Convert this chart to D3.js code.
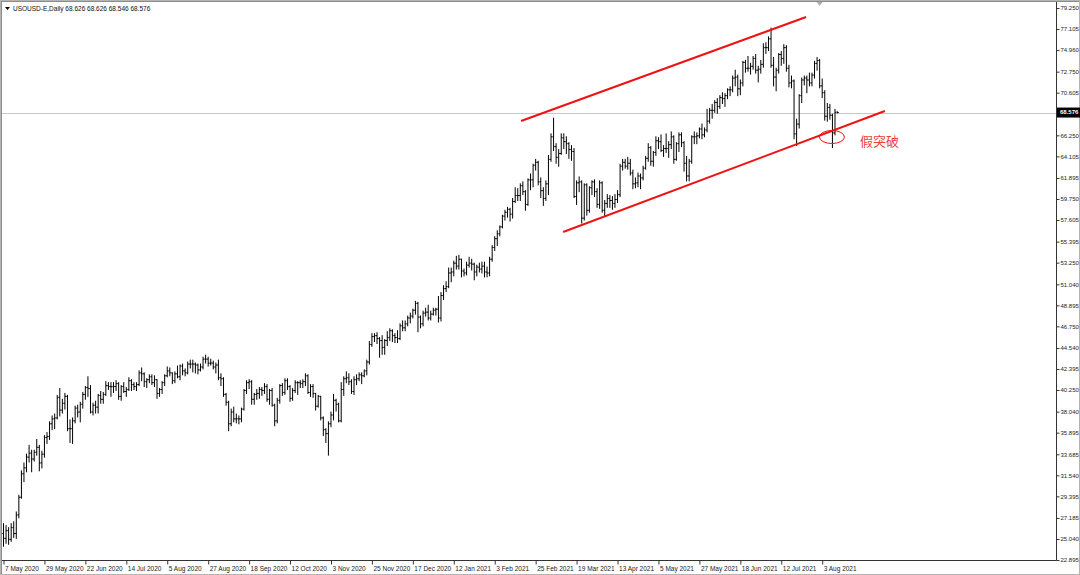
<!DOCTYPE html>
<html><head><meta charset="utf-8">
<script src="https://cdn.jsdelivr.net/npm/d3@7"></script>
<style>html,body{margin:0;padding:0;background:#fff;overflow:hidden}</style>
</head><body><svg id="c" width="1080" height="575"></svg>
<script>
const opens=[25.6,25.1,25.9,25.0,26.2,25.6,27.5,29.3,31.7,32.3,
33.4,33.8,33.2,33.9,34.4,32.8,33.7,35.4,35.5,36.8,
37.3,37.4,39.5,38.2,38.9,39.6,36.3,36.3,37.1,38.4,
38.0,38.8,39.8,40.5,40.4,38.0,38.7,38.5,39.7,39.3,
39.8,40.7,40.6,40.6,40.6,40.9,39.6,40.6,40.1,40.3,
41.2,40.8,40.6,40.8,42.0,41.9,41.1,41.3,41.6,41.0,
41.3,39.9,40.3,41.0,41.7,42.2,42.0,41.2,41.9,41.6,
42.7,42.2,42.0,42.9,42.9,42.9,42.8,42.3,42.6,43.4,
43.4,43.0,43.0,42.6,42.8,41.5,41.4,39.8,39.0,36.8,
38.0,37.3,37.3,37.3,38.3,40.2,41.0,41.1,39.3,39.8,
39.9,40.3,40.2,40.6,39.3,40.2,38.7,37.1,39.2,40.7,
40.0,41.2,40.6,39.4,40.2,41.0,41.0,40.9,41.1,41.7,
40.0,40.6,39.9,38.6,39.6,37.4,36.2,35.8,36.8,37.7,
39.2,38.8,37.1,40.3,41.4,41.5,41.1,40.1,41.3,41.4,
41.8,41.7,42.2,43.1,44.9,45.7,45.8,45.5,45.3,44.6,
45.3,45.6,46.3,45.8,45.6,45.5,46.8,46.6,47.0,47.6,
47.8,48.4,49.1,47.7,47.0,48.1,48.2,47.6,48.0,48.4,
48.5,47.6,49.9,50.6,50.8,52.2,52.3,53.2,52.9,53.6,
52.4,52.2,53.0,53.2,53.1,52.3,52.8,52.6,52.9,52.3,
52.2,53.6,54.8,55.7,56.2,56.9,58.0,58.4,58.7,58.2,
59.5,60.1,60.1,61.1,60.5,59.2,61.7,61.7,63.2,63.5,
61.5,60.6,59.8,61.3,63.8,66.1,65.1,64.0,64.4,66.0,
65.6,65.4,64.8,64.6,60.0,61.4,61.5,57.8,61.2,58.6,
60.9,61.5,60.5,59.2,61.4,58.6,59.3,59.8,59.6,59.3,
59.7,60.2,63.1,63.5,63.1,63.4,62.4,61.3,61.4,62.1,
61.9,62.9,63.9,65.0,63.6,64.5,65.7,65.6,64.7,64.9,
64.9,65.3,66.1,63.8,65.4,66.3,65.5,63.4,62.1,63.6,
66.1,66.1,66.2,66.9,66.3,66.8,67.7,68.8,68.8,69.6,
69.2,70.1,70.0,70.3,70.9,70.9,72.1,72.2,71.0,71.6,
73.7,73.1,73.1,73.3,74.1,72.9,73.0,73.5,75.2,75.2,
76.1,73.4,72.2,72.9,74.5,74.1,75.2,73.1,71.6,71.8,
66.4,67.4,70.3,71.9,72.1,71.9,71.6,72.4,73.6,73.9,
71.3,70.6,68.2,69.1,68.3,66.5,68.626];
const highs=[26.6,26.4,26.2,26.6,26.8,27.8,29.5,32.0,32.8,33.7,
34.6,34.1,34.1,35.2,34.6,34.0,35.6,35.9,37.0,37.6,
37.8,39.7,40.4,39.3,39.9,39.7,37.2,37.4,38.6,38.7,
39.0,40.0,40.6,41.6,40.7,38.9,39.1,39.8,40.1,40.0,
41.1,41.0,41.0,41.0,41.2,41.0,40.7,41.0,40.5,41.5,
41.3,41.0,41.0,42.2,42.5,42.0,41.4,41.8,41.8,41.7,
41.3,40.4,41.1,41.8,42.6,42.5,42.0,42.1,42.7,42.8,
42.9,42.4,43.1,43.3,43.3,43.0,42.9,42.9,43.6,43.8,
43.6,43.4,43.2,43.0,43.3,41.9,41.5,39.9,39.1,38.3,
38.5,37.8,37.6,38.4,40.3,41.2,41.3,41.2,39.9,40.3,
40.5,40.5,40.9,40.8,40.3,40.4,38.8,39.4,40.8,40.9,
41.4,41.4,40.7,40.4,41.2,41.1,41.2,41.3,41.9,41.8,
40.8,40.8,39.9,39.7,39.6,37.5,36.3,37.0,38.0,39.8,
39.3,38.9,41.0,41.6,42.1,41.9,41.3,41.6,41.8,42.0,
42.0,42.3,43.3,45.2,46.0,46.0,46.1,45.6,45.8,45.4,
46.2,46.5,46.4,46.0,46.3,47.0,47.3,47.3,47.8,48.1,
48.5,49.3,49.2,47.8,48.3,48.6,48.9,48.3,48.6,48.6,
49.8,50.2,50.9,51.3,52.7,52.7,53.4,53.9,54.0,53.6,
52.6,53.3,53.8,53.6,53.2,53.0,53.2,53.3,53.3,52.8,
53.8,55.0,55.9,56.5,57.0,58.1,58.6,58.9,58.8,59.8,
60.9,60.8,61.3,61.5,60.6,61.8,62.3,63.3,63.8,63.6,
61.9,60.9,61.6,64.2,66.4,68.0,65.4,64.8,66.4,66.4,
66.1,65.5,65.2,64.9,61.6,62.0,61.6,61.3,61.3,61.0,
61.6,61.7,60.8,61.6,61.5,59.6,60.2,60.1,60.0,60.2,
60.6,63.3,63.8,63.8,64.0,63.8,62.7,61.9,62.4,62.3,
63.1,64.1,65.4,65.1,64.6,66.1,66.0,66.3,65.2,66.4,
65.6,66.6,66.2,65.5,66.5,66.5,65.6,64.1,63.8,66.2,
66.6,66.5,67.0,67.4,67.0,68.9,69.0,69.4,69.8,70.0,
70.3,70.6,70.5,71.0,71.2,72.3,72.9,72.4,71.9,73.8,
73.9,74.3,73.6,74.3,74.5,73.3,73.9,75.6,75.7,76.3,
77.2,74.2,73.1,74.6,74.8,75.5,75.4,73.4,72.3,71.9,
67.9,70.4,72.1,72.3,72.3,72.6,72.6,73.8,74.2,74.0,
72.0,70.8,69.5,69.4,68.4,68.9,68.626];
const lows=[24.3,24.6,24.5,24.8,25.2,25.1,27.2,29.2,30.9,31.9,
32.9,31.9,33.0,33.6,32.0,32.3,33.4,34.8,35.2,36.2,
36.3,37.3,37.6,37.9,38.3,36.1,34.9,34.8,36.9,37.5,
37.0,38.4,39.3,39.6,37.9,37.7,37.9,37.9,38.9,38.9,
39.7,40.3,39.6,40.0,40.2,39.3,39.2,40.0,39.6,40.2,
40.2,40.3,40.2,40.7,41.2,40.6,40.5,41.0,40.8,40.6,
39.4,39.6,39.9,40.7,41.6,41.7,40.9,41.0,41.5,41.3,
41.8,41.7,41.9,42.5,42.1,42.0,41.9,42.2,42.4,43.0,
42.7,42.8,42.4,42.0,41.3,40.7,39.6,38.7,36.1,36.6,
37.0,36.9,36.8,37.0,38.2,39.9,40.4,38.8,38.8,39.3,
39.4,39.7,39.9,39.1,38.8,38.6,36.6,36.9,38.9,39.7,
39.8,40.3,39.1,39.2,40.0,39.8,40.5,40.5,40.7,39.9,
39.6,39.5,38.2,38.5,37.2,35.6,34.9,33.6,36.5,37.2,
38.1,37.0,37.0,39.7,41.0,40.8,39.9,39.8,40.8,41.2,
40.9,41.6,41.8,42.9,44.7,45.2,45.0,43.6,43.9,43.9,
44.8,45.3,45.2,45.1,45.1,45.4,46.3,46.3,46.8,47.1,
47.6,48.0,46.2,46.6,46.8,47.8,47.4,47.4,47.9,47.9,
47.2,47.3,49.5,50.3,50.7,51.3,51.9,52.6,52.6,51.8,
51.9,52.0,52.8,52.5,51.5,51.9,52.3,52.2,51.8,51.8,
51.9,53.4,54.5,55.0,56.0,56.8,57.6,57.9,57.5,57.8,
59.4,59.6,59.6,60.2,58.6,59.1,60.7,61.0,62.7,61.2,
59.9,59.1,59.6,60.2,63.6,64.7,63.4,63.1,64.3,64.9,
64.4,63.9,63.7,59.9,59.2,60.5,57.3,57.6,58.1,58.4,
60.2,60.0,58.9,58.8,58.4,58.0,58.9,58.9,58.7,58.9,
59.4,60.0,62.7,62.9,62.8,62.2,60.8,60.9,61.0,60.8,
61.7,62.8,63.6,63.2,63.1,64.2,64.9,64.6,64.1,64.5,
64.0,64.9,63.4,63.7,64.6,65.1,62.6,61.6,61.6,63.4,
65.4,65.4,66.0,65.9,66.1,66.6,67.5,68.0,68.6,68.5,
69.0,69.5,69.2,70.0,70.3,70.7,71.3,70.3,70.4,71.3,
72.7,72.8,72.5,73.0,72.6,71.7,72.6,73.2,74.6,74.9,
73.2,71.3,70.8,72.6,73.4,73.6,72.8,71.2,71.1,65.9,
65.2,67.0,69.6,71.4,70.6,71.3,71.3,72.1,72.9,71.1,
70.1,67.8,67.7,67.9,65.0,66.3,68.546];
const closes=[25.1,25.9,25.0,26.2,25.6,27.5,29.3,31.7,32.3,33.4,
33.8,33.2,33.9,34.4,32.8,33.7,35.4,35.5,36.8,37.3,
37.4,39.5,38.2,38.9,39.6,36.3,36.3,37.1,38.4,38.0,
38.8,39.8,40.5,40.4,38.0,38.7,38.5,39.7,39.3,39.8,
40.7,40.6,40.6,40.6,40.9,39.6,40.6,40.1,40.3,41.2,
40.8,40.6,40.8,42.0,41.9,41.1,41.3,41.6,41.0,41.3,
39.9,40.3,41.0,41.7,42.2,42.0,41.2,41.9,41.6,42.7,
42.2,42.0,42.9,42.9,42.9,42.8,42.3,42.6,43.4,43.4,
43.0,43.0,42.6,42.8,41.5,41.4,39.8,39.0,36.8,38.0,
37.3,37.3,37.3,38.3,40.2,41.0,41.1,39.3,39.8,39.9,
40.3,40.2,40.6,39.3,40.2,38.7,37.1,39.2,40.7,40.0,
41.2,40.6,39.4,40.2,41.0,41.0,40.9,41.1,41.7,40.0,
40.6,39.9,38.6,39.6,37.4,36.2,35.8,36.8,37.7,39.2,
38.8,37.1,40.3,41.4,41.5,41.1,40.1,41.3,41.4,41.8,
41.7,42.2,43.1,44.9,45.7,45.8,45.5,45.3,44.6,45.3,
45.6,46.3,45.8,45.6,45.5,46.8,46.6,47.0,47.6,47.8,
48.4,49.1,47.7,47.0,48.1,48.2,47.6,48.0,48.4,48.5,
47.6,49.9,50.6,50.8,52.2,52.3,53.2,52.9,53.6,52.4,
52.2,53.0,53.2,53.1,52.3,52.8,52.6,52.9,52.3,52.2,
53.6,54.8,55.7,56.2,56.9,58.0,58.4,58.7,58.2,59.5,
60.1,60.1,61.1,60.5,59.2,61.7,61.7,63.2,63.5,61.5,
60.6,59.8,61.3,63.8,66.1,65.1,64.0,64.4,66.0,65.6,
65.4,64.8,64.6,60.0,61.4,61.5,57.8,61.2,58.6,60.9,
61.5,60.5,59.2,61.4,58.6,59.3,59.8,59.6,59.3,59.7,
60.2,63.1,63.5,63.1,63.4,62.4,61.3,61.4,62.1,61.9,
62.9,63.9,65.0,63.6,64.5,65.7,65.6,64.7,64.9,64.9,
65.3,66.1,63.8,65.4,66.3,65.5,63.4,62.1,63.6,66.1,
66.1,66.2,66.9,66.3,66.8,67.7,68.8,68.8,69.6,69.2,
70.1,70.0,70.3,70.9,70.9,72.1,72.2,71.0,71.6,73.7,
73.1,73.1,73.3,74.1,72.9,73.0,73.5,75.2,75.2,76.1,
73.4,72.2,72.9,74.5,74.1,75.2,73.1,71.6,71.8,66.4,
67.4,70.3,71.9,72.1,71.9,71.6,72.4,73.6,73.9,71.3,
70.6,68.2,69.1,68.3,66.5,68.6,68.576];

const dateLabels=["7 May 2020","29 May 2020","22 Jun 2020","14 Jul 2020","5 Aug 2020","27 Aug 2020","18 Sep 2020","12 Oct 2020","3 Nov 2020","25 Nov 2020","17 Dec 2020","12 Jan 2021","3 Feb 2021","25 Feb 2021","19 Mar 2021","13 Apr 2021","5 May 2021","27 May 2021","18 Jun 2021","12 Jul 2021","3 Aug 2021"];
const dateLabelIdx=[0,16,32,48,64,80,96,112,128,144,160,176,192,208,224,240,256,272,288,304,320];
const priceTicks=[79.250,77.105,74.960,72.750,70.605,66.250,64.105,61.895,59.750,57.605,55.395,53.250,51.040,48.895,46.750,44.540,42.395,40.250,38.040,35.895,33.685,31.540,29.395,27.185,25.040,22.895];
const bidPrice=68.576;
const symbolText="USOUSD-E,Daily";
const ohlcText="68.626 68.626 68.546 68.576";
const channelUpper=[[202.3,67.71],[313.7,78.33]];
const channelLower=[[218.75,56.38],[344.5,68.73]];
const fakeBreakMark={idx:323.8,price:66.08};
const fakeBreakLabel={idx:334.8,price:65.55,text:"假突破"};

const W=1080,H=575;
const svg=d3.select("#c");
const x=d3.scaleLinear().domain([0,320]).range([3.5,822.2]);
const y=d3.scaleLinear().domain([22.895,79.25]).range([560,8]);
const plotRight=1056.5, plotBottom=560.5;
const FONT="'Liberation Sans',Arial,sans-serif";

// frame
svg.append("rect").attr("x",0.5).attr("y",0.5).attr("width",W-1).attr("height",H-1).attr("fill","none").attr("stroke","#b4b4b4");
svg.append("line").attr("x1",1.5).attr("x2",1.5).attr("y1",1).attr("y2",H-1).attr("stroke","#8c8c8c");
svg.append("line").attr("x1",1).attr("x2",W-1).attr("y1",1.5).attr("y2",1.5).attr("stroke","#8c8c8c");

// bid line
svg.append("line").attr("x1",2).attr("x2",plotRight).attr("y1",Math.round(y(bidPrice))+0.5).attr("y2",Math.round(y(bidPrice))+0.5).attr("stroke","#c8c8c8").attr("stroke-width",1);

// OHLC bars
const g=svg.append("g").attr("stroke","#000").attr("stroke-width",1);
const idx=d3.range(closes.length);
g.selectAll("line.hl").data(idx).join("line").attr("class","hl")
 .attr("x1",i=>x(i)).attr("x2",i=>x(i)).attr("y1",i=>y(highs[i])-0.5).attr("y2",i=>y(lows[i])+0.5);
g.selectAll("line.o").data(idx).join("line").attr("class","o")
 .attr("x1",i=>x(i)-1.2).attr("x2",i=>x(i)).attr("y1",i=>y(opens[i])).attr("y2",i=>y(opens[i]));
g.selectAll("line.c").data(idx).join("line").attr("class","c")
 .attr("x1",i=>x(i)).attr("x2",i=>x(i)+1.2).attr("y1",i=>y(closes[i])).attr("y2",i=>y(closes[i]));

// channel lines
const red="#ee1111";
[channelUpper,channelLower].forEach(seg=>{
  svg.append("line").attr("x1",x(seg[0][0])).attr("y1",y(seg[0][1])).attr("x2",x(seg[1][0])).attr("y2",y(seg[1][1]))
   .attr("stroke",red).attr("stroke-width",2);
});
svg.append("ellipse").attr("cx",x(fakeBreakMark.idx)).attr("cy",y(fakeBreakMark.price)).attr("rx",12.5).attr("ry",6.5)
 .attr("fill","none").attr("stroke",red).attr("stroke-width",1);
svg.append("text").attr("x",x(fakeBreakLabel.idx)).attr("y",y(fakeBreakLabel.price)).attr("dominant-baseline","middle")
 .attr("font-family","'Noto Sans CJK SC',sans-serif").attr("font-size",13).attr("fill","#e8413c").text(fakeBreakLabel.text);

// axes lines
svg.append("line").attr("x1",plotRight).attr("x2",plotRight).attr("y1",2).attr("y2",plotBottom).attr("stroke","#333");
svg.append("line").attr("x1",2).attr("x2",plotRight).attr("y1",plotBottom).attr("y2",plotBottom).attr("stroke","#333");

// right price axis
const ya=svg.append("g").attr("transform",`translate(${plotRight},0)`)
 .call(d3.axisRight(y).tickValues(priceTicks).tickSize(3).tickPadding(1).tickFormat(d3.format(".3f")));
ya.select(".domain").remove();
ya.selectAll("text").attr("font-family",FONT).attr("font-size",6).attr("fill","#222");
ya.selectAll("line").attr("stroke","#333");

// bid label
const by=y(bidPrice);
svg.append("rect").attr("x",plotRight+0.5).attr("y",by-5).attr("width",W-plotRight-0.5).attr("height",10).attr("fill","#000");
svg.append("text").attr("x",plotRight+3.5).attr("y",by).attr("dominant-baseline","middle")
 .attr("font-family",FONT).attr("font-size",6).attr("font-weight","bold").attr("fill","#fff").text(d3.format(".3f")(bidPrice));

// bottom date axis
const xa=svg.append("g").attr("transform",`translate(0,${plotBottom})`)
 .call(d3.axisBottom(x).tickValues(dateLabelIdx).tickSize(4).tickPadding(2).tickFormat((d,i)=>dateLabels[i]));
xa.select(".domain").remove();
xa.selectAll("text").attr("text-anchor","start").attr("dx",1).attr("font-family",FONT).attr("font-size",6.5).attr("fill","#222");
xa.selectAll("line").attr("stroke","#333");

// header
svg.append("path").attr("d","M5,7 L10,7 L7.5,10 Z").attr("fill","#000");
svg.append("text").attr("x",13).attr("y",10.5).attr("font-family",FONT).attr("font-size",6.5).attr("fill","#111")
 .text(symbolText+"  "+ohlcText);

// chart shift marker
svg.append("path").attr("d",`M${x(319)-3},2 L${x(319)+3},2 L${x(319)},6 Z`).attr("fill","#b0b0b0");
</script></body></html>
